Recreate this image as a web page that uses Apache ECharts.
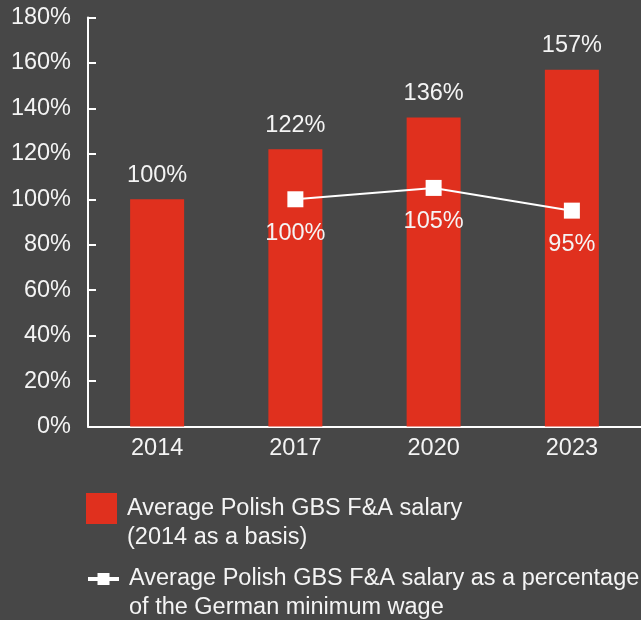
<!DOCTYPE html>
<html>
<head>
<meta charset="utf-8">
<script src="https://cdn.jsdelivr.net/npm/echarts@6/dist/echarts.min.js"></script>
<style>
  html, body { margin: 0; padding: 0; background: #474747; }
  #container { width: 641px; height: 620px; }
</style>
</head>
<body>
<div id="container"></div>
<script>
let years = ['2014', '2017', '2020', '2023'];
let salaryIndex = [100, 122, 136, 157];
let germanShare = [null, 100, 105, 95];
let yTicks = [0, 20, 40, 60, 80, 100, 120, 140, 160, 180];

let barName = 'Average Polish GBS F&A salary (2014 as a basis)';
let lineName = 'Average Polish GBS F&A salary as a percentage of the German minimum wage';
let barLegendLines = ['Average Polish GBS F&A salary', '(2014 as a basis)'];
let lineLegendLines = ['Average Polish GBS F&A salary as a percentage', 'of the German minimum wage'];

let font = '"Liberation Sans", Arial, Helvetica, sans-serif';
let textColor = '#f4f4f4';
let red = '#e0301e';
let fs = 23.5;

let option = {
    backgroundColor: '#474747',
    textStyle: { fontFamily: font },
    grid: { left: 88, top: 17.5, width: 556, height: 409 },
    legend: [
        {
            data: [barName],
            left: 86, top: 465,
            padding: 0,
            orient: 'vertical',
            icon: 'rect',
            itemWidth: 31, itemHeight: 31,
            selectedMode: false,
            // leading empty line keeps the first text line level with the icon
            formatter: function () { return '\n' + barLegendLines.join('\n'); },
            textStyle: { color: textColor, fontSize: fs, fontFamily: font, lineHeight: 29, padding: [0, 0, 0, 5] }
        },
        {
            data: [lineName],
            left: 86, top: 535.5,
            padding: 0,
            orient: 'vertical',
            itemWidth: 31, itemHeight: 15,
            selectedMode: false,
            lineStyle: { width: 4, color: '#ffffff' },
            itemStyle: { color: '#ffffff' },
            formatter: function () { return '\n' + lineLegendLines.join('\n'); },
            textStyle: { color: textColor, fontSize: fs, fontFamily: font, lineHeight: 29, padding: [0, 0, 0, 5] }
        }
    ],
    xAxis: {
        type: 'category',
        data: years,
        axisLine: { lineStyle: { color: '#ffffff', width: 2 } },
        axisTick: { inside: true, length: 8, lineStyle: { color: '#ffffff', width: 2 } },
        axisLabel: { color: textColor, fontSize: fs, fontFamily: font, margin: 10 }
    },
    yAxis: {
        type: 'value',
        min: yTicks[0],
        max: yTicks[yTicks.length - 1],
        interval: yTicks[1] - yTicks[0],
        axisLine: { show: true, lineStyle: { color: '#ffffff', width: 2 } },
        axisTick: { show: true, inside: true, length: 8, lineStyle: { color: '#ffffff', width: 2 } },
        splitLine: { show: false },
        axisLabel: { color: textColor, fontSize: fs, fontFamily: font, margin: 17, formatter: '{value}%' }
    },
    series: [
        {
            name: barName,
            type: 'bar',
            data: salaryIndex,
            barWidth: 54,
            itemStyle: { color: red },
            label: {
                show: true, position: 'top', distance: 12,
                color: textColor, fontSize: fs, fontFamily: font,
                formatter: '{c}%'
            }
        },
        {
            name: lineName,
            type: 'line',
            data: germanShare,
            symbol: 'rect',
            symbolSize: 16,
            itemStyle: { color: '#ffffff' },
            lineStyle: { color: '#ffffff', width: 2 },
            label: {
                show: true, position: 'bottom', distance: 14,
                color: textColor, fontSize: fs, fontFamily: font,
                formatter: '{c}%'
            },
            z: 5
        }
    ]
};

let myChart = echarts.init(document.getElementById('container'));
myChart.setOption(option);
</script>
</body>
</html>
